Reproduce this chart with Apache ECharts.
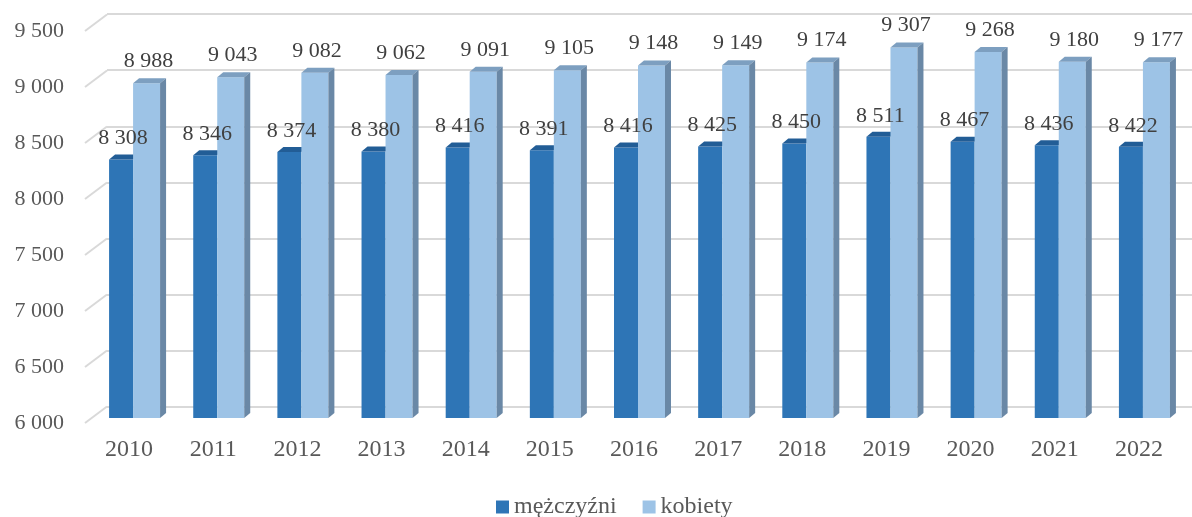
<!DOCTYPE html>
<html>
<head>
<meta charset="utf-8">
<script src="https://cdn.jsdelivr.net/npm/echarts@6/dist/echarts.min.js"></script>
<style>
  html, body { margin: 0; padding: 0; background: #fff; }
  #main { width: 1192px; height: 517px; }
</style>
</head>
<body>
<div id="main"></div>
<script>
  // dane z wykresu
  const years = ['2010', '2011', '2012', '2013', '2014', '2015', '2016', '2017', '2018', '2019', '2020', '2021', '2022']
  const men = [8308, 8346, 8374, 8380, 8416, 8391, 8416, 8425, 8450, 8511, 8467, 8436, 8422]
  const women = [8988, 9043, 9082, 9062, 9091, 9105, 9148, 9149, 9174, 9307, 9268, 9180, 9177]
  const yTicks = [6000, 6500, 7000, 7500, 8000, 8500, 9000, 9500]
  const seriesNames = ['mężczyźni', 'kobiety']

  const FONT = '"Liberation Serif", "Times New Roman", serif'
  const DARK = '#2e75b6'
  const LIGHT = '#9dc3e6'

  const fmt = v => String(v).replace(/\B(?=(\d{3})+(?!\d))/g, ' ')

  const barRows = years.map((y, i) => [i, men[i], women[i]])
  const tickRows = yTicks.map(v => [0, v])

  const myChart = echarts.init(document.getElementById('main'))

  // bars with a pseudo 3D look (front, top, side faces)
  function renderBars (params, api) {
    const i = api.value(0)
    const base = api.coord([i, yTicks[0]])
    const pm = api.coord([i, api.value(1)])
    const pw = api.coord([i, api.value(2)])
    const cx = base[0]
    const by = base[1]
    const w1 = 24, w2 = 27, dx = 6, dy = -5
    const x0 = cx - w1
    return {
      type: 'group',
      children: [
        { type: 'rect', shape: { x: x0, y: pm[1], width: w1, height: by - pm[1] }, style: { fill: DARK } },
        { type: 'polygon', shape: { points: [[x0, pm[1]], [cx, pm[1]], [cx + dx, pm[1] + dy], [x0 + dx, pm[1] + dy]] }, style: { fill: '#225d96' } },
        { type: 'rect', shape: { x: cx, y: pw[1], width: w2, height: by - pw[1] }, style: { fill: LIGHT } },
        { type: 'polygon', shape: { points: [[cx, pw[1]], [cx + w2, pw[1]], [cx + w2 + dx, pw[1] + dy], [cx + dx, pw[1] + dy]] }, style: { fill: '#7d9fc0' } },
        { type: 'polygon', shape: { points: [[cx + w2, pw[1]], [cx + w2 + dx, pw[1] + dy], [cx + w2 + dx, by + dy], [cx + w2, by]] }, style: { fill: '#6a88a6' } },
        { type: 'text', style: { x: x0 + w1 / 2 + 2, y: pm[1] - 10, text: fmt(api.value(1)), fill: '#404040', font: '22px ' + FONT, textAlign: 'center', textVerticalAlign: 'bottom' } },
        { type: 'text', style: { x: cx + w2 / 2 + 2, y: pw[1] - 11, text: fmt(api.value(2)), fill: '#404040', font: '22px ' + FONT, textAlign: 'center', textVerticalAlign: 'bottom' } }
      ]
    }
  }

  // diagonal lines joining the axis labels with the back wall
  function renderDiag (params, api) {
    const p = api.coord([0, api.value(1)])
    const x0 = params.coordSys.x
    return {
      type: 'line',
      shape: { x1: x0, y1: p[1], x2: x0 + 22, y2: p[1] - 16.5 },
      style: { stroke: '#d9d9d9', lineWidth: 2 }
    }
  }

  const option = {
    animation: false,
    backgroundColor: '#fff',
    grid: [
      { left: 107, right: 0, top: 14, bottom: 110 },   // back wall
      { left: 85, right: 22, top: 31, bottom: 94 },     // front plane (labels)
      { left: 91, right: 7, top: 26, bottom: 99 }       // bars
    ],
    xAxis: [
      { gridIndex: 0, type: 'category', data: years, show: false },
      { gridIndex: 1, type: 'category', data: years, show: false },
      {
        gridIndex: 2,
        type: 'category',
        data: years,
        axisLine: { show: false },
        axisTick: { show: false },
        axisLabel: { color: '#595959', fontFamily: FONT, fontSize: 24, margin: 20, padding: [0, 8, 0, 0] }
      }
    ],
    yAxis: [
      {
        gridIndex: 0, type: 'value', min: 6000, max: 9500, interval: 500,
        axisLine: { show: false }, axisTick: { show: false }, axisLabel: { show: false },
        splitLine: { lineStyle: { color: '#d9d9d9', width: 2 } }
      },
      {
        gridIndex: 1, type: 'value', min: 6000, max: 9500, interval: 500,
        axisLine: { show: false }, axisTick: { show: false }, splitLine: { show: false },
        axisLabel: { color: '#595959', fontFamily: FONT, fontSize: 22, margin: 21, formatter: fmt }
      },
      {
        gridIndex: 2, type: 'value', min: 6000, max: 9500, interval: 500, show: false
      }
    ],
    legend: {
      top: 490,
      left: 491,
      itemWidth: 13,
      itemHeight: 13,
      itemGap: 26,
      icon: 'rect',
      textStyle: { color: '#595959', fontFamily: FONT, fontSize: 24 },
      data: seriesNames
    },
    series: [
      {
        type: 'custom',
        xAxisIndex: 1,
        yAxisIndex: 1,
        renderItem: renderDiag,
        data: tickRows,
        silent: true,
        z: 1
      },
      {
        type: 'custom',
        xAxisIndex: 2,
        yAxisIndex: 2,
        renderItem: renderBars,
        encode: { x: 0, y: [1, 2] },
        data: barRows,
        z: 3
      },
      // legend only
      { name: seriesNames[0], type: 'bar', xAxisIndex: 2, yAxisIndex: 2, data: [], itemStyle: { color: DARK } },
      { name: seriesNames[1], type: 'bar', xAxisIndex: 2, yAxisIndex: 2, data: [], itemStyle: { color: LIGHT } }
    ]
  }

  myChart.setOption(option)
</script>
</body>
</html>
